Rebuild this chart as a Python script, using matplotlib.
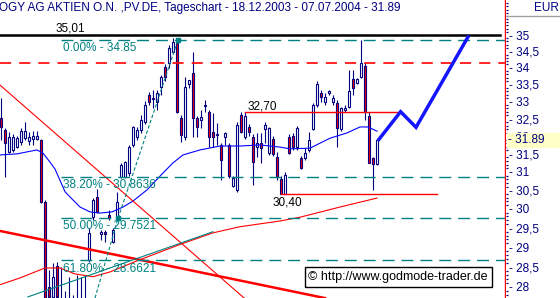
import numpy as np
import matplotlib
matplotlib.use("Agg")
import matplotlib.pyplot as plt
from matplotlib.ticker import FixedLocator, FuncFormatter, NullLocator, NullFormatter

# Tagescandles (EUR): Open, High, Low, Close
opens = [32.52, 32.17, 31.55, 31.61, 31.69, 31.83, 31.94, 31.86, 31.92, 31.92,
         31.89, 30.19, 28.00, 27.75, 28.53, 27.40, 27.60, 27.40, 27.60, 27.30,
         27.20, 27.50, 28.68, 29.78, 30.32, 29.35, 29.40, 29.84, 29.14, 29.78,
         30.86, 30.86, 30.97, 31.75, 31.97, 32.17, 32.40, 33.19, 33.10, 32.98,
         33.43, 34.02, 34.15, 34.48, 34.75, 32.52, 31.97, 33.52, 33.84, 32.52,
         32.46, 32.86, 32.69, 32.12, 32.03, 31.75, 31.97, 31.75, 30.62, 30.51,
         32.60, 31.97, 32.26, 31.97, 31.69, 31.80, 32.20, 31.52, 31.92, 31.41,
         30.80, 30.40, 31.97, 32.00, 31.69, 31.38, 31.38, 31.61, 32.20, 32.89,
         33.25, 32.98, 33.25, 32.98, 32.95, 32.20, 32.75, 32.83, 33.65, 33.55,
         33.72, 34.05, 32.57, 31.38, 31.22]
highs = [33.10, 32.23, 32.12, 32.06, 32.00, 32.23, 32.40, 32.12, 32.15, 32.15,
         31.92, 30.24, 28.42, 28.60, 28.63, 28.50, 27.90, 28.25, 27.80, 28.30,
         28.25, 28.30, 29.50, 30.30, 30.54, 29.45, 29.45, 29.97, 29.50, 30.46,
         31.25, 31.30, 31.75, 32.30, 32.26, 32.60, 33.00, 33.28, 33.33, 33.33,
         33.78, 34.10, 34.70, 34.91, 34.88, 32.60, 33.72, 33.60, 34.48, 32.57,
         32.75, 33.04, 32.75, 32.66, 32.37, 31.80, 32.12, 31.80, 30.90, 32.40,
         32.70, 32.70, 32.35, 32.05, 32.09, 32.09, 32.40, 32.26, 32.00, 31.55,
         30.90, 31.00, 32.05, 32.10, 32.28, 31.45, 31.66, 32.12, 32.95, 33.60,
         33.33, 33.25, 33.33, 33.20, 33.04, 32.85, 32.90, 33.93, 33.93, 33.70,
         34.85, 34.15, 32.69, 31.40, 31.90]
lows = [31.89, 30.86, 31.52, 31.55, 31.66, 31.75, 31.89, 31.75, 31.75, 31.89,
        30.16, 27.30, 27.60, 27.60, 27.60, 27.20, 27.20, 27.20, 27.10, 27.00,
        27.00, 27.30, 28.62, 29.71, 29.89, 29.19, 29.14, 29.70, 29.10, 29.76,
        30.83, 30.83, 30.90, 31.70, 31.89, 32.10, 32.35, 32.89, 32.80, 32.75,
        33.19, 33.60, 34.00, 34.45, 32.66, 31.83, 31.90, 33.40, 31.97, 31.97,
        32.23, 32.69, 31.69, 31.69, 31.75, 30.78, 31.75, 30.83, 30.60, 30.46,
        32.10, 31.92, 32.00, 30.65, 31.41, 31.25, 31.80, 31.47, 31.45, 30.78,
        30.40, 30.40, 31.50, 31.60, 31.60, 31.08, 31.33, 31.55, 32.17, 32.85,
        32.98, 32.89, 33.19, 32.89, 31.69, 32.15, 32.70, 32.80, 33.19, 33.50,
        33.70, 32.46, 31.25, 30.51, 31.20]
closes = [32.26, 31.80, 31.97, 31.97, 31.94, 32.15, 32.15, 31.97, 32.00, 32.00,
          30.19, 27.50, 27.75, 28.25, 27.75, 27.65, 27.40, 27.60, 27.30, 27.60,
          27.60, 27.70, 29.37, 30.24, 29.92, 29.40, 29.35, 29.76, 29.45, 30.19,
          31.19, 31.27, 31.69, 32.26, 32.17, 32.46, 32.89, 32.98, 33.07, 33.25,
          33.72, 33.72, 34.60, 34.78, 32.69, 32.03, 33.43, 33.63, 32.52, 32.26,
          32.54, 32.89, 31.97, 31.97, 32.06, 31.33, 32.09, 30.89, 30.83, 32.32,
          32.12, 32.57, 32.12, 31.27, 31.80, 31.66, 32.32, 32.23, 31.50, 30.86,
          30.40, 30.91, 31.52, 31.69, 32.23, 31.11, 31.52, 31.89, 32.89, 33.52,
          33.13, 33.13, 33.30, 33.10, 32.23, 32.80, 32.80, 33.30, 33.40, 33.65,
          34.15, 32.69, 31.25, 31.22, 31.89]

# gleitende Durchschnitte (Tag, Kurs)
ma_blue_x = [-0.25, 4.0, 9.0, 10.5, 12.25, 13.5, 16.0, 17.25, 19.75, 22.25, 24.75,
             27.75, 30.5, 33.0, 36.5, 40.5, 43.0, 45.5, 49.75, 54.75, 59.75, 64.75,
             69.75, 72.25, 77.25, 82.25, 86.5, 89.75, 91.75, 94.0]
ma_blue_y = [31.47, 31.50, 31.61, 31.52, 31.27, 31.08, 30.46, 30.32, 30.05, 29.92, 29.89,
             29.92, 30.05, 30.21, 30.51, 30.97, 31.25, 31.47, 31.61, 31.72, 31.72, 31.75,
             31.69, 31.64, 31.66, 31.94, 32.09, 32.26, 32.26, 32.14]
ma_red_x = [-0.25, 4.75, 11.0, 14.75, 18.5, 23.0, 27.25, 34.0, 44.75, 53.0, 59.75,
            69.75, 74.75, 84.75, 94.0]
ma_red_y = [28.05, 28.22, 28.47, 28.47, 28.32, 28.25, 28.37, 28.65, 29.07, 29.37, 29.53,
            29.68, 29.78, 30.05, 30.29]

# Trendlinien (Tag, Kurs)
trend_thin_x = [-0.25, 62.2]
trend_thin_y = [33.48, 27.60]
trend_thick_x = [-0.25, 81.0]
trend_thick_y = [29.42, 27.72]
trend_teal_x = [6.75, 53.0]
trend_teal_y = [27.75, 29.40]
fib_trend_x = [23.5, 29.25, 44.25]
fib_trend_y = [27.72, 29.75, 34.85]

# Fibonacci-Retracements
fib_names = ["0.00%", "38.20%", "50.00%", "61.80%"]
fib_levels = [34.85, 30.8636, 29.7521, 28.6621]

top_level = 35.01
resist_level = 34.15
level_hi = 32.70
level_lo = 30.40
level_hi_span = [61.0, 99.25]
level_lo_span = [70.0, 109.0]

# Prognose
proj_x = [94.5, 99.9, 103.75, 116.75]
proj_y = [31.91, 32.70, 32.25, 34.94]

axis_ticks = [28, 28.5, 29, 29.5, 30, 30.5, 31, 31.5, 32, 32.5, 33, 33.5, 34, 34.5, 35]
last_price = closes[-1]

NAVY = "#000080"
TEAL = "#008080"
RED = "#ff0000"
FONT = ["Liberation Sans Narrow", "Liberation Sans", "DejaVu Sans"]
plt.rcParams["lines.scale_dashes"] = False

W, H = 560, 298
fig = plt.figure(figsize=(W / 100, H / 100), dpi=100)
fig.patch.set_facecolor("white")

ax = fig.add_axes([0, 0, 505 / W, 1])
ax.set_yscale("log")
ax.set_ylim(27.722, 36.103)
ax.set_xlim(-0.25, 126.0)
ax.xaxis.set_major_locator(NullLocator())
ax.yaxis.set_major_locator(NullLocator())
ax.yaxis.set_minor_locator(NullLocator())
ax.yaxis.set_minor_formatter(NullFormatter())
for s in ["left", "top", "bottom"]:
    ax.spines[s].set_visible(False)
ax.spines["right"].set_color(RED)
ax.spines["right"].set_linewidth(1.0)

# Kerzen
o = np.array(opens)
c = np.array(closes)
idx = np.arange(len(o))
up = c >= o
ax.vlines(idx, lows, highs, color=NAVY, lw=0.8, zorder=2)
body = np.maximum(np.abs(c - o), 0.012)
ax.bar(idx, body, bottom=np.minimum(o, c), width=0.55,
       color=np.where(up, "white", RED), edgecolor=NAVY, linewidth=0.8, zorder=3)

# Durchschnitte und Trendlinien
ax.plot(ma_blue_x, ma_blue_y, color="#0000ff", lw=0.8, zorder=4)
ax.plot(ma_red_x, ma_red_y, color=RED, lw=0.8, zorder=4)
ax.plot(trend_thin_x, trend_thin_y, color=RED, lw=0.8, zorder=4)
ax.plot(trend_thick_x, trend_thick_y, color=RED, lw=1.8, zorder=4)
ax.plot(trend_teal_x, trend_teal_y, color=TEAL, lw=0.8, zorder=4)
ax.plot(fib_trend_x, fib_trend_y, color=TEAL, lw=0.8, ls=(0, (2.5, 1.5)), zorder=4)
ax.plot(fib_trend_x[1:], fib_trend_y[1:], ls="none", marker="s", ms=3.2,
        color=TEAL, zorder=5)

# horizontale Marken
xmin, xmax = ax.get_xlim()
ax.plot([xmin, 124.75], [top_level] * 2, color="black", lw=1.8, zorder=5)
ax.axhline(resist_level, color=RED, lw=1.2, ls=(0, (8, 5.8)), zorder=5)
for name, lvl in zip(fib_names, fib_levels):
    ax.plot([15.0, xmax], [lvl, lvl], color=TEAL, lw=1.0, ls=(0, (8.6, 5)), zorder=5)
    ax.annotate(f"{name} - {lvl:g}", (15.25, lvl), xytext=(0.5, -1.6),
                textcoords="offset points", va="top", ha="left",
                color=TEAL, fontsize=8.5, family=FONT, zorder=6)
ax.plot(level_hi_span, [level_hi] * 2, color=RED, lw=1.0, zorder=5)
ax.plot(level_lo_span, [level_lo] * 2, color=RED, lw=1.0, zorder=5)

ax.annotate(f"{top_level:.2f}".replace(".", ","), (17.25, top_level), xytext=(0, 2.4),
            textcoords="offset points", ha="center", va="baseline",
            fontsize=8.5, family=FONT, color="black")
ax.annotate(f"{level_hi:.2f}".replace(".", ","), (61.75, level_hi), xytext=(0, 1.5),
            textcoords="offset points", ha="left", va="baseline",
            fontsize=8.5, family=FONT, color="black")
ax.annotate(f"{level_lo:.2f}".replace(".", ","), (68.0, level_lo), xytext=(0, -1.5),
            textcoords="offset points", ha="left", va="top",
            fontsize=8.5, family=FONT, color="black")

# Prognosepfeil
ax.plot(proj_x, proj_y, color="#1414ff", lw=2.5, solid_joinstyle="miter", zorder=6)

ax.text(398 / 505, 1 - 277 / 298, "\u00a9 http://www.godmode-trader.de",
        transform=ax.transAxes, ha="center", va="center", fontsize=9,
        family=["Liberation Sans", "DejaVu Sans"], color="black", zorder=7,
        bbox=dict(boxstyle="square,pad=0.3", fc="white", ec="black", lw=1.0))

# rechte Kursachse
ax2 = fig.add_axes([506 / W, 0, 54 / W, 1])
ax2.set_yscale("log")
ax2.set_ylim(ax.get_ylim())
ax2.set_xlim(0, 1)
ax2.xaxis.set_major_locator(NullLocator())
for s in ax2.spines.values():
    s.set_visible(False)
ax2.yaxis.set_major_locator(FixedLocator(axis_ticks))
ax2.yaxis.set_major_formatter(FuncFormatter(lambda v, p: "- " + f"{v:g}".replace(".", ",")))
ax2.yaxis.set_minor_locator(FixedLocator(np.arange(27.8, 36.1, 0.1)))
ax2.yaxis.set_minor_formatter(NullFormatter())
ax2.tick_params(axis="y", which="major", length=0, pad=-2.2, labelsize=8.5,
                labelcolor=NAVY)
ax2.tick_params(axis="y", which="minor", length=1.2, width=0.9, direction="in",
                color=NAVY)
for t in ax2.get_yticklabels():
    t.set_horizontalalignment("left")
    t.set_family(FONT)

# Kursmarke ueber den Achsbeschriftungen
ax2.axhspan(last_price * np.exp(-7 / 1128), last_price * np.exp(7 / 1128),
            xmin=0.01, color="#ffffc8", zorder=3)
ax2.text(0.04, last_price, f"- {last_price:.2f}", transform=ax2.get_yaxis_transform(),
         ha="left", va="center", fontsize=8.5, family=FONT, color=NAVY, zorder=4)
ax2.plot([0, 1], [1 - 16 / H] * 2, transform=ax2.transAxes, color="#a0a0a0", lw=1.0)
fig.text(546 / W, 1 - 8 / H, "EUR", ha="center", va="center", fontsize=8.5,
         family=FONT, color=NAVY)

fig.text(-0.002, 1 - 7.5 / H,
         "OGY AG AKTIEN O.N. ,PV.DE, Tageschart - 18.12.2003 - 07.07.2004 - 31.89",
         ha="left", va="center", fontsize=8.5, family=FONT, color=NAVY)

fig.savefig("out.png", dpi=100)
